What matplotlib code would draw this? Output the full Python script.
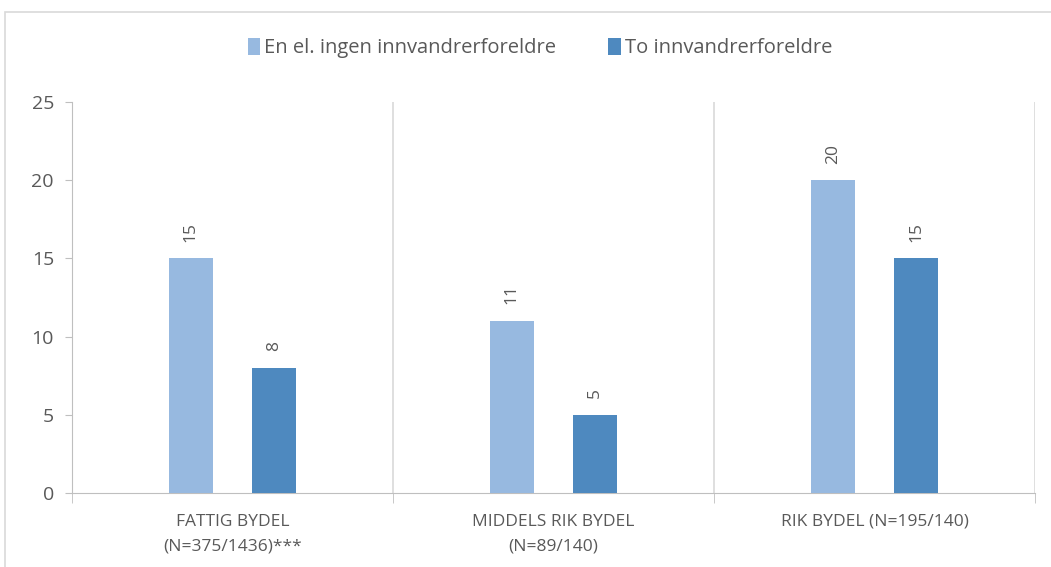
import matplotlib
matplotlib.use("Agg")
import matplotlib.pyplot as plt
import numpy as np
from matplotlib.patches import Rectangle

categories = ["FATTIG BYDEL\n(N=375/1436)***", "MIDDELS RIK BYDEL\n(N=89/140)", "RIK BYDEL (N=195/140)"]
series_names = ["En el. ingen innvandrerforeldre", "To innvandrerforeldre"]
vals_light = [15, 11, 20]
vals_dark = [8, 5, 15]
yticks = [0, 5, 10, 15, 20, 25]

c_light = "#97B9E0"
c_dark = "#4E89BF"
txt = "#595959"
grid = "#D9D9D9"

plt.rcParams['font.family'] = ['Open Sans', 'DejaVu Sans']

fig = plt.figure(figsize=(10.51, 5.67), dpi=100)
fig.patches.append(Rectangle((5/1051, -0.01), 1.2, 1 - 12/567 + 0.01, transform=fig.transFigure,
                             fill=False, edgecolor="#D9D9D9", linewidth=1.2))
ax = fig.add_axes([72/1051, 1 - 493/567, (1035 - 72)/1051, (493 - 102)/567])

x = np.arange(len(categories))
w = 0.1375
off = 0.13
b1 = ax.bar(x - off, vals_light, w, color=c_light, label=series_names[0], zorder=3)
b2 = ax.bar(x + off, vals_dark, w, color=c_dark, label=series_names[1], zorder=3)

for bars, vals in ((b1, vals_light), (b2, vals_dark)):
    for r, v in zip(bars, vals):
        ax.annotate(str(v), (r.get_x() + r.get_width()/2, v), xytext=(0, 12),
                    textcoords="offset points", rotation=90, ha="center", va="bottom",
                    fontsize=12.5, color=txt)

ax.set_xlim(-0.5, 2.5)
ax.set_ylim(0, 25)
ax.set_yticks(yticks)
ax.tick_params(axis='y', labelsize=14, colors=txt, length=5, color="#BFBFBF", pad=8)
ax.set_xticks(x)
ax.set_xticklabels(categories, fontsize=12.5, color=txt, linespacing=1.75)
ax.tick_params(axis='x', length=0, pad=15)
ax.set_xticks([0.5, 1.5, 2.5, -0.5], minor=True)
ax.tick_params(axis='x', which='minor', length=7, color="#BFBFBF")
for xv in [0.5, 1.5, 2.5]:
    ax.axvline(xv, color=grid, linewidth=1.2, zorder=1)
for s in ["top", "right"]:
    ax.spines[s].set_visible(False)
ax.spines["left"].set_color("#BFBFBF")
ax.spines["bottom"].set_color("#BFBFBF")

fig.legend(handles=[b1, b2], labels=series_names, loc="center", bbox_to_anchor=(540/1051, 1 - 48/567),
           ncol=2, frameon=False, fontsize=14.5, handlelength=0.6, handleheight=0.9,
           handletextpad=0.2, columnspacing=2.6, labelcolor=txt)

fig.savefig("out.png", dpi=100)
